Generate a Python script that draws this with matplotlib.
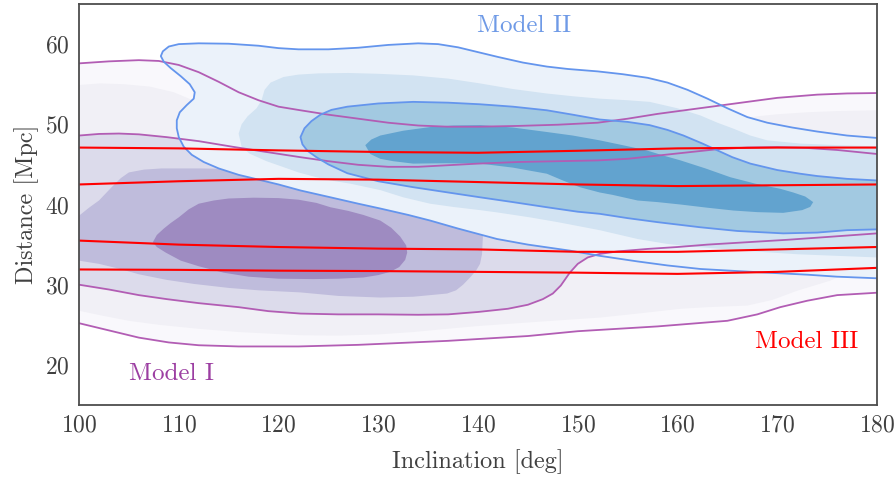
import matplotlib.pyplot as plt
import seaborn as sns

sns.set_style("white")
plt.rcParams['font.family'] = ['cmr10', 'DejaVu Serif']
plt.rcParams['mathtext.fontset'] = 'cm'
plt.rcParams['axes.unicode_minus'] = False
plt.rcParams['axes.formatter.use_mathtext'] = True

# ---- Model I (purple): outer / inner credible contours (open at the axis edges)
m1_outer_top_x = [100, 103, 106, 108, 110, 112, 114, 116, 118, 120, 122.2, 125, 128, 131, 134, 137, 140, 144, 148,
                  152, 155, 158, 161, 164, 167, 170, 174, 177, 180]
m1_outer_top_y = [57.6, 57.85, 58.0, 57.9, 57.4, 56.5, 55.3, 54.0, 53.0, 52.2, 51.75, 51.2, 50.7, 50.2, 49.85, 49.7,
                  49.7, 49.8, 49.95, 50.2, 50.7, 51.3, 51.8, 52.3, 52.8, 53.3, 53.7, 53.85, 53.9]
m1_outer_bot_x = [100, 103, 106, 109, 112, 116, 122, 128, 137, 145, 150, 158, 165, 168, 170.3, 173, 176, 180]
m1_outer_bot_y = [25.2, 24.3, 23.4, 22.8, 22.45, 22.3, 22.3, 22.5, 23.0, 23.6, 24.2, 24.8, 25.5, 26.3, 27.2, 28.0,
                  28.7, 29.0]

m1_inner_top_x = [100, 102, 104, 106, 108.8, 112, 115.4, 118, 122.2, 125, 128, 131, 134, 137, 140, 144, 148, 152,
                  155, 158, 161, 164, 167, 170, 173, 176, 180]
m1_inner_top_y = [48.6, 48.8, 48.85, 48.75, 48.4, 47.9, 47.2, 46.7, 45.9, 45.4, 44.95, 44.7, 44.7, 44.9, 45.1, 45.3,
                  45.4, 45.5, 45.7, 46.1, 46.5, 46.9, 47.1, 47.15, 47.05, 46.8, 46.3]
m1_inner_bot_x = [100, 103, 106, 108.8, 112, 116, 119, 122.2, 126, 130, 134, 137, 140, 143, 145, 146.5, 147.5, 148.3,
                  149.2, 150, 151, 152.2, 154, 157, 160, 163, 167, 171, 175, 180]
m1_inner_bot_y = [30.0, 29.4, 28.7, 28.2, 27.7, 27.2, 26.7, 26.4, 26.3, 26.3, 26.25, 26.3, 26.6, 27.0, 27.5, 28.2,
                  28.9, 29.9, 31.5, 32.6, 33.4, 33.84, 34.15, 34.46, 34.7, 35.0, 35.3, 35.6, 35.95, 36.4]

# Model I density levels (filled)
m1_lvl2_top_x = [100, 102.1, 104.5, 107.1, 109.5, 111.4, 113.5, 116, 119, 122, 126, 130, 135, 140, 145, 150, 155,
                 160, 163, 166, 168, 170, 173, 176, 180]
m1_lvl2_top_y = [54.9, 55.1, 55.0, 54.7, 54.0, 53.0, 52.2, 51.5, 50.8, 50.2, 49.6, 49.2, 48.8, 48.6, 48.5, 48.6,
                 48.9, 49.5, 50.0, 50.6, 51.0, 51.25, 51.5, 51.65, 51.75]
m1_lvl2_bot_x = [100, 102.5, 105, 108, 112, 116, 122.2, 126, 130, 133.5, 136.9, 140, 144, 148, 152.2, 156, 160.3,
                 163, 167, 169.5, 172, 175.3, 178, 180]
m1_lvl2_bot_y = [26.75, 26.1, 25.5, 25.0, 24.5, 24.1, 23.7, 23.65, 23.8, 24.1, 24.5, 24.85, 25.2, 25.55, 25.9, 26.4,
                 27.0, 27.2, 27.4, 28.1, 29.25, 30.5, 32.0, 33.0]

m1_lvl4_x = [100, 101, 102, 103.3, 104.2, 105, 106.5, 108.3, 112, 117, 122, 126, 130, 133, 136, 138.5, 140, 140.5,
             140.5, 140.4, 140.2, 139.8, 139.2, 138.5, 137.8, 136.9, 133.5, 130.2, 126, 122.2, 118, 115, 111.5,
             108.8, 106, 104, 102, 100]
m1_lvl4_y = [38.6, 39.6, 40.5, 42.2, 43.3, 44.0, 44.35, 44.5, 44.5, 44.4, 44.25, 43.8, 43.0, 42.2, 41.0, 39.7, 38.5,
             37.2, 36.3, 33.8, 32.6, 31.75, 30.9, 30.0, 29.3, 28.9, 28.5, 28.4, 28.6, 29.04, 29.3, 29.6, 30.1,
             30.6, 31.3, 32.0, 32.6, 33.0]

m1_lvl5_x = [107.4, 107.8, 108.5, 109.2, 110, 111, 112, 113.5, 115, 117.5, 120, 122, 123.8, 125.2, 127, 128.5,
             130.2, 131.3, 132.2, 132.8, 132.9, 132.7, 132.1, 131.2, 130, 128.5, 126, 123.5, 120, 117, 114.5, 112,
             110.2, 108.7, 107.8]
m1_lvl5_y = [35.3, 36.2, 37.0, 37.7, 38.4, 39.4, 40.1, 40.5, 40.75, 40.85, 40.8, 40.6, 40.2, 39.66, 39.2, 38.7,
             38.0, 37.1, 36.0, 34.9, 34.0, 33.1, 32.2, 31.6, 31.2, 30.9, 30.75, 30.7, 30.75, 31.0, 31.5, 32.3,
             33.0, 34.0, 34.7]

# ---- Model II (blue): outer / inner contours (cut by the right edge)
m2_outer_x = [180, 177, 174, 171.5, 169, 167, 165, 163, 161, 159, 157, 154.5, 152, 149, 146.9, 144.5, 142, 140,
              138, 136, 134, 131, 128, 125, 122, 120, 118, 115, 112, 110, 109, 108.4, 108.2, 108.5, 109.2, 110.2,
              111.1, 111.6, 111.5, 110.8, 110.1, 109.8, 109.8, 110, 110.5, 111.3, 112.5, 114, 116, 118, 120, 122.2,
              125.2, 128, 130.2, 133, 135.2, 138, 141.9, 145, 149.2, 152.2, 156, 159, 162.3, 166, 169, 173, 176, 180]
m2_outer_y = [48.3, 48.6, 49.1, 49.6, 50.2, 50.9, 52.0, 53.2, 54.3, 55.2, 55.8, 56.25, 56.6, 56.9, 57.2, 57.7, 58.4,
              59.0, 59.6, 60.0, 60.1, 59.9, 59.55, 59.35, 59.35, 59.5, 59.8, 60.05, 60.1, 60.0, 59.7, 59.1, 58.5,
              57.8, 57.0, 56.0, 55.0, 54.0, 53.2, 52.4, 51.5, 50.5, 49.5, 48.4, 47.2, 46.2, 45.3, 44.5, 43.7, 43.1,
              42.5, 41.75, 40.9, 40.1, 39.5, 38.7, 38.0, 37.0, 35.7, 35.0, 34.25, 33.6, 32.9, 32.4, 31.96, 31.7,
              31.5, 31.25, 31.0, 30.8]

m2_inner_x = [180, 177, 174, 172.3, 170, 167.3, 165.5, 164, 162.5, 160.6, 159, 157.2, 155, 152.2, 149.5, 146.9,
              143.5, 140.2, 137, 133.5, 130, 126.9, 125.3, 124.2, 123.3, 122.6, 122.2, 122.4, 122.9, 123.8, 125,
              126.9, 130, 133.5, 137, 140.2, 143.5, 146.9, 150, 152.2, 155, 158, 162.3, 166, 170.6, 174, 177, 180]
m2_inner_y = [43.0, 43.2, 43.55, 43.84, 44.3, 45.1, 45.9, 46.75, 47.6, 48.6, 49.3, 49.9, 50.3, 50.6, 51.2, 51.75,
              52.2, 52.5, 52.7, 52.8, 52.6, 52.2, 51.8, 51.2, 50.4, 49.5, 48.4, 47.5, 46.7, 45.9, 45.0, 43.9, 42.9,
              42.16, 41.5, 40.9, 40.3, 39.66, 39.1, 38.84, 38.3, 37.8, 37.16, 36.7, 36.4, 36.5, 36.8, 36.9]

m2_lvl2_x = [116, 116.3, 116.9, 117.8, 118.3, 118.6, 119.2, 120.5, 122, 124, 127, 130, 133.5, 137, 140.2, 143.5,
             146.9, 149.5, 152.2, 155, 157.2, 160, 162.3, 164, 165.6, 167.3, 169, 172.3, 176, 180, 180, 176, 172,
             169, 165, 161, 158.9, 156, 152.2, 148, 145.2, 142, 140.2, 137.5, 135.2, 132.5, 130.2, 127.2, 125.2,
             123.8, 122, 120.5, 118.8, 117.1, 116.3]
m2_lvl2_y = [48.84, 50.0, 51.0, 52.0, 53.0, 54.3, 55.2, 55.9, 56.2, 56.35, 56.4, 56.3, 56.1, 55.7, 55.1, 54.4, 53.84,
             53.5, 53.2, 53.0, 52.8, 52.0, 51.1, 50.2, 49.46, 48.6, 48.0, 47.6, 47.4, 47.25, 33.4, 33.6, 33.8, 34.04,
             34.4, 34.8, 35.1, 35.7, 36.8, 37.8, 38.4, 39.0, 39.3, 39.7, 40.1, 40.9, 41.8, 42.6, 43.0, 43.4, 44.0,
             44.66, 45.4, 46.34, 47.2]

m2_lvl4_x = [128.7, 129.3, 130.2, 132.5, 135.2, 137.5, 140.2, 143.5, 146.9, 149.5, 152.2, 154.5, 156.9, 158.6, 160.3,
             162.8, 165.3, 167.8, 170.3, 171.6, 172.8, 173.6, 173.3, 172.5, 170.6, 168, 165.6, 163, 160.3, 158, 156,
             153.5, 152.2, 150.2, 148.5, 146.9, 143.5, 140.2, 136.8, 133.5, 131.5, 130.2, 129.2]
m2_lvl4_y = [47.4, 48.1, 48.6, 49.2, 49.66, 49.85, 49.9, 49.6, 49.04, 48.6, 48.0, 47.4, 46.75, 46.1, 45.5, 44.5,
             43.4, 42.6, 41.96, 41.5, 41.0, 40.3, 39.7, 39.3, 38.96, 39.05, 39.25, 39.6, 40.0, 40.3, 40.5, 41.2,
             41.5, 42.16, 43.0, 43.84, 44.6, 45.1, 45.15, 45.1, 45.4, 45.7, 46.3]

# ---- Model III (red): two contours spanning the full inclination range
m3_x = [100, 110, 120, 130, 140, 150, 160, 170, 180]
m3_outer_hi = [47.1, 47.0, 46.75, 46.55, 46.45, 46.7, 47.0, 47.1, 47.1]
m3_inner_hi = [42.5, 42.9, 43.2, 43.1, 42.8, 42.5, 42.3, 42.4, 42.5]
m3_inner_lo = [35.5, 35.0, 34.7, 34.5, 34.4, 34.1, 34.1, 34.4, 34.7]
m3_outer_lo = [31.9, 31.85, 31.75, 31.7, 31.6, 31.5, 31.35, 31.6, 32.1]

purple_fills = ['#f9f8fc', '#f1f0f6', '#dcdbeb', '#bfbcdc', '#9e8bc1']
blue_fills = ['#ebf2fa', '#d2e3f2', '#a2c9e1', '#62a3cf']
purple_line = '#b25db4'
blue_line = '#6495ed'


def band(top_x, top_y, bot_x, bot_y):
    return list(top_x) + list(bot_x)[::-1], list(top_y) + list(bot_y)[::-1]


fig = plt.figure(figsize=(8.95, 4.79), dpi=100)
ax = fig.add_axes([0.0883, 0.1545, 0.8916, 0.8371])

# Model I fills
bx, by = band(m1_outer_top_x, m1_outer_top_y, m1_outer_bot_x, m1_outer_bot_y)
ax.fill(bx, by, color=purple_fills[0], lw=0, zorder=1)
bx, by = band(m1_lvl2_top_x, m1_lvl2_top_y, m1_lvl2_bot_x, m1_lvl2_bot_y)
ax.fill(bx, by, color=purple_fills[1], lw=0, zorder=1)
bx, by = band(m1_inner_top_x, m1_inner_top_y, m1_inner_bot_x, m1_inner_bot_y)
ax.fill(bx, by, color=purple_fills[2], lw=0, zorder=1)
ax.fill(m1_lvl4_x, m1_lvl4_y, color=purple_fills[3], lw=0, zorder=1)
ax.fill(m1_lvl5_x, m1_lvl5_y, color=purple_fills[4], lw=0, zorder=1)

# Model II fills
ax.fill(m2_outer_x, m2_outer_y, color=blue_fills[0], lw=0, zorder=2)
ax.fill(m2_lvl2_x, m2_lvl2_y, color=blue_fills[1], lw=0, zorder=2)
ax.fill(m2_inner_x, m2_inner_y, color=blue_fills[2], lw=0, zorder=2)
ax.fill(m2_lvl4_x, m2_lvl4_y, color=blue_fills[3], lw=0, zorder=2)

# contour lines
for xs, ys in [(m1_outer_top_x, m1_outer_top_y), (m1_outer_bot_x, m1_outer_bot_y),
               (m1_inner_top_x, m1_inner_top_y), (m1_inner_bot_x, m1_inner_bot_y)]:
    ax.plot(xs, ys, color=purple_line, lw=1.3, zorder=3, solid_joinstyle='round')
ax.plot(m2_outer_x, m2_outer_y, color=blue_line, lw=1.3, zorder=3, solid_joinstyle='round')
ax.plot(m2_inner_x, m2_inner_y, color=blue_line, lw=1.3, zorder=3, solid_joinstyle='round')
for ys in [m3_outer_hi, m3_inner_hi, m3_inner_lo, m3_outer_lo]:
    ax.plot(m3_x, ys, color='red', lw=1.5, zorder=4, solid_joinstyle='round')

ax.text(109.3, 18.9, 'Model I', color='#9c3ea2', fontsize=18, ha='center', va='center')
ax.text(144.6, 62.3, 'Model II', color='#6f9ae6', fontsize=18, ha='center', va='center')
ax.text(172.9, 22.9, 'Model III', color='red', fontsize=18, ha='center', va='center')

ax.set_xlim(100, 180)
ax.set_ylim(15, 65)
ax.set_xticks([100, 110, 120, 130, 140, 150, 160, 170, 180])
ax.set_yticks([20, 30, 40, 50, 60])
ax.tick_params(labelsize=17, colors='.25')
ax.set_xlabel('Inclination [deg]', fontsize=17.5, color='.25', labelpad=9)
ax.set_ylabel('Distance [Mpc]', fontsize=17.5, color='.25')
for s in ax.spines.values():
    s.set_color('.3')
    s.set_linewidth(1.3)
    s.set_zorder(5)

fig.savefig('out.png', dpi=100)
